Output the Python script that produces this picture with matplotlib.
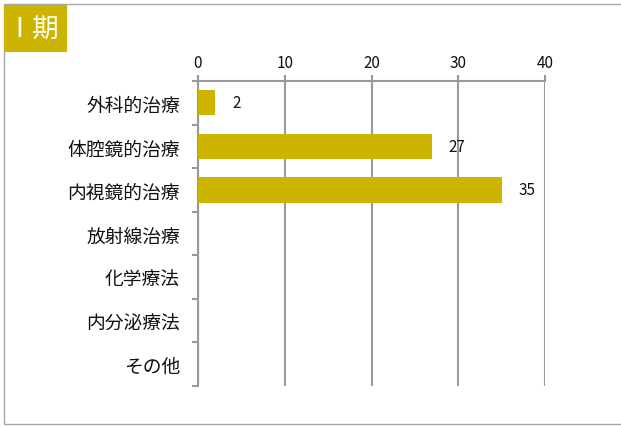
import matplotlib.pyplot as plt
from matplotlib.patches import Rectangle

plt.rcParams['font.family'] = ['Noto Sans CJK JP', 'DejaVu Sans']

categories = ['外科的治療', '体腔鏡的治療', '内視鏡的治療', '放射線治療', '化学療法', '内分泌療法', 'その他']
values = [2, 27, 35, 0, 0, 0, 0]
xticks = [0, 10, 20, 30, 40]

gold = '#CDB400'
grid = '#999999'

fig = plt.figure(figsize=(6.21, 4.27), dpi=100)

# outer frame
fig.patches.append(Rectangle((3.5 / 621, 2 / 427), 1.0, 420 / 427, transform=fig.transFigure,
                             fill=False, edgecolor='#A6A6A6', linewidth=1.0))
# title box
fig.patches.append(Rectangle((4 / 621, 1 - 53 / 427), 63 / 621, 47 / 427, transform=fig.transFigure,
                             facecolor=gold, edgecolor='none'))
fig.text(37 / 621, 1 - 30 / 427, 'Ⅰ 期', color='white', fontsize=19, ha='center', va='center',
         family=['DejaVu Sans', 'Noto Sans CJK JP'])

ax = fig.add_axes([198 / 621, 1 - 387 / 427, 347 / 621, 305 / 427])
pos = list(range(len(categories)))
ax.barh(pos, values, height=0.58, color=gold, edgecolor='none', zorder=3)
for p, v in zip(pos, values):
    if v:
        ax.annotate(str(v), xy=(v, p), xytext=(12, 0), textcoords='offset points',
                    va='center', ha='left', fontsize=11, color='#111111', zorder=4)

ax.set_xlim(0, 40)
ax.set_ylim(len(categories) - 0.5, -0.5)
ax.set_xticks(xticks)
ax.xaxis.tick_top()
ax.tick_params(axis='x', direction='out', length=4, width=1.5, color=grid, labelsize=11,
               pad=3, labelcolor='#111111')
ax.set_yticks(pos)
ax.set_yticklabels(categories)
ax.set_yticks([p - 0.5 for p in pos] + [len(pos) - 0.5], minor=True)
ax.tick_params(axis='y', which='major', length=0, pad=13, labelsize=13.5, labelcolor='#111111')
ax.tick_params(axis='y', which='minor', direction='out', length=4, width=1.5, color=grid)
ax.grid(axis='x', color=grid, linewidth=1.5, zorder=0)
for s in ['right', 'bottom']:
    ax.spines[s].set_visible(False)
for s in ['top', 'left']:
    ax.spines[s].set_color(grid)
    ax.spines[s].set_linewidth(1.5)

fig.savefig('out.png', dpi=100)
